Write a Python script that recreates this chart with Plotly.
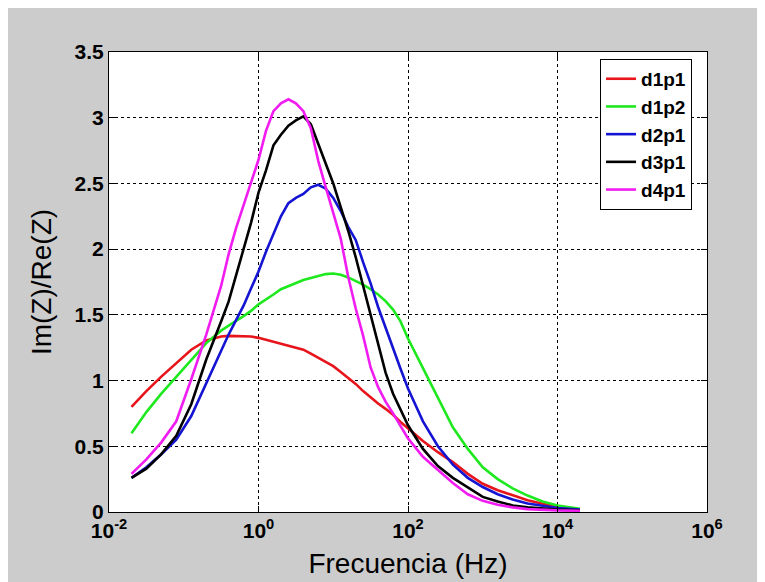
import plotly.graph_objects as go

# Frequency samples (Hz)
freq = [0.02, 0.0316, 0.0501, 0.0794, 0.126, 0.2, 0.316, 0.398, 0.501, 0.631, 0.794,
        1.0, 1.259, 1.585, 1.995, 2.512, 3.162, 3.981, 5.012, 6.31, 7.943,
        10.0, 12.59, 15.85, 19.95, 25.12, 31.62, 39.81, 50.12, 63.1, 79.43,
        100.0, 158.5, 251.2, 398.1, 631.0, 1000.0, 1585.0, 2512.0, 3981.0, 6310.0,
        10000.0, 19953.0]

d1p1 = [0.80, 0.92, 1.03, 1.13, 1.235, 1.305, 1.335, 1.34, 1.34, 1.34, 1.335,
        1.325, 1.31, 1.295, 1.28, 1.27, 1.255, 1.235, 1.205, 1.175, 1.145,
        1.11, 1.065, 1.02, 0.975, 0.92, 0.87, 0.825, 0.785, 0.74, 0.685,
        0.635, 0.54, 0.455, 0.38, 0.29, 0.215, 0.165, 0.125, 0.09, 0.063,
        0.04, 0.018]

d1p2 = [0.60, 0.76, 0.90, 1.03, 1.16, 1.285, 1.38, 1.42, 1.455, 1.49, 1.53,
        1.58, 1.615, 1.655, 1.695, 1.72, 1.745, 1.765, 1.78, 1.795, 1.81,
        1.815, 1.805, 1.785, 1.76, 1.73, 1.695, 1.655, 1.605, 1.54, 1.45,
        1.32, 1.095, 0.865, 0.645, 0.48, 0.34, 0.25, 0.18, 0.125, 0.08,
        0.05, 0.025]

d2p1 = [0.26, 0.34, 0.44, 0.55, 0.73, 0.98, 1.22, 1.35, 1.46, 1.57, 1.70,
        1.83, 1.98, 2.12, 2.25, 2.35, 2.39, 2.42, 2.47, 2.49, 2.46,
        2.39, 2.29, 2.17, 2.07, 1.90, 1.74, 1.56, 1.40, 1.24, 1.09,
        0.94, 0.69, 0.50, 0.36, 0.26, 0.19, 0.135, 0.095, 0.065, 0.045,
        0.03, 0.018]

d3p1 = [0.26, 0.33, 0.44, 0.58, 0.82, 1.16, 1.45, 1.60, 1.80, 2.00, 2.20,
        2.43, 2.60, 2.79, 2.87, 2.94, 2.98, 3.01, 2.95, 2.80, 2.65,
        2.50, 2.32, 2.14, 1.94, 1.72, 1.48, 1.26, 1.06, 0.90, 0.78,
        0.66, 0.48, 0.35, 0.26, 0.185, 0.115, 0.08, 0.05, 0.035, 0.025,
        0.018, 0.012]

d4p1 = [0.29, 0.40, 0.53, 0.69, 1.01, 1.35, 1.72, 1.96, 2.16, 2.33, 2.50,
        2.68, 2.90, 3.05, 3.11, 3.14, 3.11, 3.05, 2.92, 2.67, 2.47,
        2.28, 2.08, 1.79, 1.55, 1.34, 1.10, 0.95, 0.84, 0.75, 0.66,
        0.56, 0.42, 0.32, 0.22, 0.135, 0.085, 0.055, 0.035, 0.022, 0.015,
        0.012, 0.01]

series_names = ["d1p1", "d1p2", "d2p1", "d3p1", "d4p1"]
series_values = [d1p1, d1p2, d2p1, d3p1, d4p1]
colors = ["#e8141c", "#1ee81e", "#1414d2", "#000000", "#f01cf0"]

x_tickvals = [0.01, 1, 100, 10000, 1000000]
x_ticktext = ["10<sup>-2</sup>", "10<sup>0</sup>", "10<sup>2</sup>", "10<sup>4</sup>", "10<sup>6</sup>"]
y_tickvals = [0, 0.5, 1, 1.5, 2, 2.5, 3, 3.5]
y_ticktext = ["0", "0.5", "1", "1.5", "2", "2.5", "3", "3.5"]

fig = go.Figure()
for name, vals, col in zip(series_names, series_values, colors):
    fig.add_trace(go.Scatter(x=freq, y=vals, mode="lines", name=name,
                             line=dict(color=col, width=2.6)))

font_family = "Liberation Sans, Arial, sans-serif"

fig.update_layout(
    width=765, height=582,
    paper_bgcolor="#cccccc",
    plot_bgcolor="#ffffff",
    margin=dict(l=101, r=66, t=44, b=78),
    font=dict(family=font_family, color="#000000"),
    showlegend=True,
    legend=dict(
        x=0.975, y=0.985, xanchor="right", yanchor="top",
        bgcolor="#ffffff", bordercolor="#000000", borderwidth=1,
        font=dict(size=19, family=font_family, weight="bold"),
        tracegroupgap=0,
    ),
    xaxis=dict(
        type="log", range=[-2, 6],
        tickvals=x_tickvals, ticktext=x_ticktext,
        showgrid=True, gridcolor="#000000", griddash="dot", gridwidth=1,
        showline=True, linecolor="#000000", linewidth=1, mirror="allticks",
        ticks="inside", ticklen=6, tickcolor="#000000",
        tickfont=dict(size=21, family=font_family, weight="bold"),
        title=dict(text="Frecuencia (Hz)", font=dict(size=28, family=font_family), standoff=12),
        zeroline=False,
    ),
    yaxis=dict(
        range=[0, 3.5],
        tickvals=y_tickvals, ticktext=y_ticktext,
        showgrid=True, gridcolor="#000000", griddash="dot", gridwidth=1,
        showline=True, linecolor="#000000", linewidth=1, mirror="allticks",
        ticks="inside", ticklen=6, tickcolor="#000000",
        tickfont=dict(size=21, family=font_family, weight="bold"),
        title=dict(text="Im(Z)/Re(Z)", font=dict(size=28, family=font_family), standoff=14),
        zeroline=False,
    ),
)

fig.write_html("out.html")
